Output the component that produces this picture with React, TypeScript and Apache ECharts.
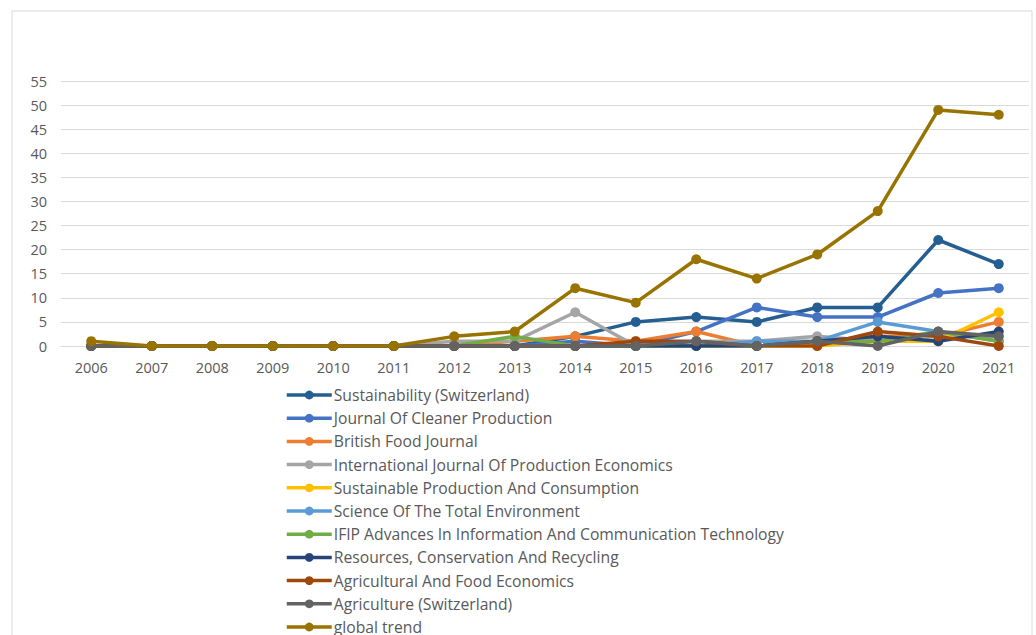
import React, { useEffect, useRef } from "react";
import * as echarts from "echarts";

const years = ["2006","2007","2008","2009","2010","2011","2012","2013","2014","2015","2016","2017","2018","2019","2020","2021"];
const sustainability = [0,0,0,0,0,0,0,0,2,5,6,5,8,8,22,17];
const cleanerProduction = [0,0,0,0,0,0,0,0,1,0,3,8,6,6,11,12];
const britishFood = [0,0,0,0,0,0,0,1,2,1,3,0,0,2,2,5];
const prodEconomics = [0,0,0,0,0,0,1,1,7,0,1,1,2,1,2,2];
const sustProdConsumption = [0,0,0,0,0,0,0,0,0,0,0,0,0,1,1,7];
const totalEnvironment = [0,0,0,0,0,0,0,0,0,0,0,1,1,5,3,1];
const ifip = [0,0,0,0,0,0,0,2,0,0,0,0,1,1,3,1];
const resourcesConservation = [0,0,0,0,0,0,0,0,0,0,0,0,1,2,1,3];
const agriFoodEconomics = [0,0,0,0,0,0,0,0,0,1,1,0,0,3,2,0];
const agriculture = [0,0,0,0,0,0,0,0,0,0,1,0,1,0,3,2];
const globalTrend = [1,0,0,0,0,0,2,3,12,9,18,14,19,28,49,48];

const seriesNames = [
  "Sustainability (Switzerland)",
  "Journal Of Cleaner Production",
  "British Food Journal",
  "International Journal Of Production Economics",
  "Sustainable Production And Consumption",
  "Science Of The Total Environment",
  "IFIP Advances In Information And Communication Technology",
  "Resources, Conservation And Recycling",
  "Agricultural And Food Economics",
  "Agriculture (Switzerland)",
  "global trend",
];
const seriesData = [
  sustainability, cleanerProduction, britishFood, prodEconomics, sustProdConsumption,
  totalEnvironment, ifip, resourcesConservation, agriFoodEconomics, agriculture, globalTrend,
];
const colors = ["#255E91","#4472C4","#ED7D31","#A5A5A5","#FFC000","#5B9BD5","#70AD47","#264478","#9E480E","#636363","#997300"];

const FONT = "Open Sans";

export default function App() {
  const ref = useRef<HTMLDivElement>(null);
  useEffect(() => {
    if (!ref.current) return;
    const chart = echarts.init(ref.current, undefined, { renderer: "svg" });
    chart.setOption({
      animation: false,
      color: colors,
      textStyle: { fontFamily: FONT },
      graphic: [
        {
          type: "rect",
          shape: { x: 12, y: 11, width: 1020, height: 640 },
          style: { fill: "none", stroke: "#d9d9d9", lineWidth: 1 },
          silent: true,
        },
      ],
      grid: { left: 61, right: 7, top: 81, bottom: 289, containLabel: false },
      xAxis: {
        type: "category",
        data: years,
        boundaryGap: true,
        axisLine: { lineStyle: { color: "#d9d9d9", width: 1 } },
        axisTick: { show: false },
        axisLabel: { color: "#595959", fontSize: 14.5, fontFamily: FONT, margin: 14 },
      },
      yAxis: {
        type: "value",
        min: 0,
        max: 55,
        interval: 5,
        axisLine: { show: false },
        axisTick: { show: false },
        splitLine: { lineStyle: { color: "#d9d9d9", width: 1 } },
        axisLabel: { color: "#595959", fontSize: 14.5, fontFamily: FONT, margin: 14 },
      },
      legend: {
        orient: "vertical",
        left: 280,
        top: 382,
        height: 400,
        itemWidth: 45,
        itemHeight: 11,
        itemGap: 7.2,
        lineStyle: { width: 3.5 },
        textStyle: { color: "#595959", fontSize: 15.7, fontFamily: FONT, padding: [0, 0, 0, -3] },
        data: seriesNames,
      },
      series: seriesNames.map((name, i) => ({
        name,
        type: "line",
        data: seriesData[i],
        symbol: "circle",
        symbolSize: 10,
        lineStyle: { width: 3.5, color: colors[i] },
        itemStyle: { color: colors[i] },
        z: i + 2,
      })),
    });
    return () => chart.dispose();
  }, []);
  return <div ref={ref} style={{ width: 1036, height: 635, position: "absolute", left: 0, top: 0 }} />;
}
